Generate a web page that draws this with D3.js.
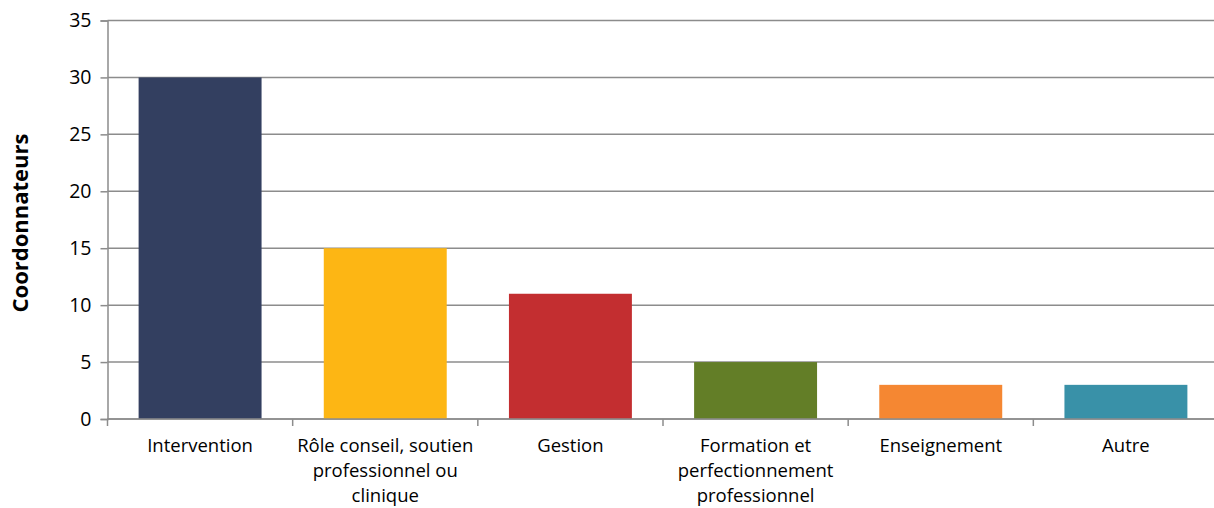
<!DOCTYPE html>
<html>
<head>
<meta charset="utf-8">
<script src="https://cdn.jsdelivr.net/npm/d3@7"></script>
<style>
  html, body { margin: 0; padding: 0; background: #fff; }
  svg { display: block; }
</style>
</head>
<body>
<svg id="chart" width="1214" height="508"></svg>
<script>
// Categories and counts of coordinators per main role
const categories = [
  "Intervention",
  "Rôle conseil, soutien professionnel ou clinique",
  "Gestion",
  "Formation et perfectionnement professionnel",
  "Enseignement",
  "Autre"
];
// Wrapped label lines for each category
const categoryLines = [
  ["Intervention"],
  ["Rôle conseil, soutien", "professionnel ou", "clinique"],
  ["Gestion"],
  ["Formation et", "perfectionnement", "professionnel"],
  ["Enseignement"],
  ["Autre"]
];
const values = [30, 15, 11, 5, 3, 3];
const barColors = ["#333F60", "#FDB614", "#C32E30", "#637E27", "#F58732", "#3991A8"];
const yTicks = [0, 5, 10, 15, 20, 25, 30, 35];
const yTitle = "Coordonnateurs";

const svg = d3.select("#chart");
const font = "'Open Sans', 'DejaVu Sans', sans-serif";

const plotLeft = 107.5, plotRight = 1218.5, plotTop = 20.5, plotBottom = 419;

const x = d3.scaleBand()
  .domain(categories)
  .range([plotLeft, plotRight])
  .paddingInner(0.336)
  .paddingOuter(0.168);

const y = d3.scaleLinear()
  .domain([0, 35])
  .range([plotBottom, plotTop]);

// Horizontal gridlines
svg.append("g")
  .selectAll("line")
  .data(yTicks)
  .join("line")
  .attr("x1", plotLeft)
  .attr("x2", plotRight)
  .attr("y1", d => y(d))
  .attr("y2", d => y(d))
  .attr("stroke", "#8c8c8c")
  .attr("stroke-width", 1.5);

// Bars
svg.append("g")
  .selectAll("rect")
  .data(values)
  .join("rect")
  .attr("x", (d, i) => x(categories[i]))
  .attr("y", d => y(d))
  .attr("width", x.bandwidth())
  .attr("height", d => y(0) - y(d))
  .attr("fill", (d, i) => barColors[i]);

// Y axis
const yAxis = svg.append("g")
  .attr("transform", `translate(${plotLeft},0)`)
  .call(d3.axisLeft(y).tickValues(yTicks).tickSize(7).tickPadding(9).tickFormat(d3.format("d")));
yAxis.select(".domain").attr("stroke", "#8c8c8c").attr("stroke-width", 1.5);
yAxis.selectAll(".tick line").attr("stroke", "#8c8c8c").attr("stroke-width", 1.5);
yAxis.selectAll(".tick text")
  .attr("font-family", font)
  .attr("font-size", 19.5)
  .attr("fill", "#000");

// X axis with tick marks at band boundaries
const xAxis = svg.append("g")
  .attr("transform", `translate(0,${plotBottom})`);
xAxis.append("line")
  .attr("x1", plotLeft).attr("x2", plotRight)
  .attr("stroke", "#8c8c8c").attr("stroke-width", 1.5);
const step = x.step();
const boundaries = d3.range(categories.length + 1).map(i => plotLeft + i * step);
xAxis.selectAll("line.tick")
  .data(boundaries)
  .join("line")
  .attr("class", "tick")
  .attr("x1", d => d).attr("x2", d => d)
  .attr("y1", 0).attr("y2", 7)
  .attr("stroke", "#8c8c8c").attr("stroke-width", 1.5);

// Category labels
const labels = svg.append("g")
  .selectAll("text")
  .data(categories)
  .join("text")
  .attr("x", d => x(d) + x.bandwidth() / 2)
  .attr("y", 452)
  .attr("text-anchor", "middle")
  .attr("font-family", font)
  .attr("font-size", 18.5)
  .attr("fill", "#000");
labels.each(function(d, i) {
  d3.select(this).selectAll("tspan")
    .data(categoryLines[i])
    .join("tspan")
    .attr("x", x(d) + x.bandwidth() / 2)
    .attr("dy", (t, j) => j === 0 ? 0 : 25)
    .text(t => t);
});

// Y axis title
svg.append("text")
  .attr("transform", "translate(28,223) rotate(-90)")
  .attr("text-anchor", "middle")
  .attr("font-family", font)
  .attr("font-size", 22)
  .attr("font-weight", "bold")
  .attr("fill", "#000")
  .text(yTitle);
</script>
</body>
</html>
